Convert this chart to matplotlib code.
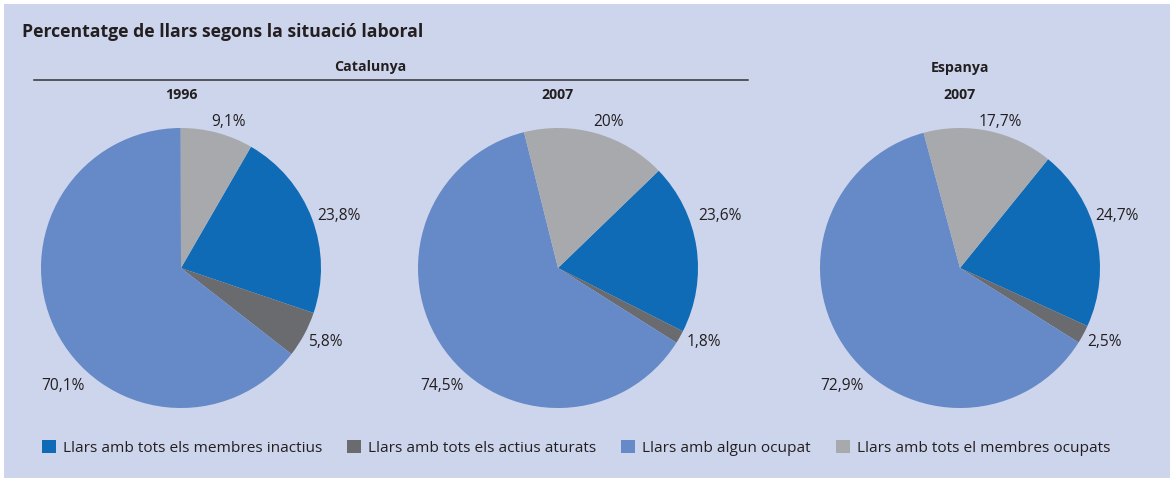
import matplotlib
matplotlib.use("Agg")
import matplotlib.pyplot as plt
from matplotlib.patches import Rectangle, Patch
from matplotlib.lines import Line2D

plt.rcParams['font.family'] = ['Open Sans', 'DejaVu Sans']

# Data
categories = [
    "Llars amb tots els membres inactius",
    "Llars amb tots els actius aturats",
    "Llars amb algun ocupat",
    "Llars amb tots el membres ocupats",
]
colors = ["#0f6bb6", "#6a6b6f", "#6689c7", "#a8a9ad"]

panels = ["1996", "2007", "2007"]
cat_1996 = [23.8, 5.8, 70.1, 9.1]
cat_2007 = [23.6, 1.8, 74.5, 20.0]
esp_2007 = [24.7, 2.5, 72.9, 17.7]
series = [cat_1996, cat_2007, esp_2007]

def fmt(v):
    s = f"{v:.1f}".rstrip("0").rstrip(".")
    return s.replace(".", ",") + "%"

W, H = 1170, 480
BG = "#cdd5ec"
TXT = "#231f20"

fig = plt.figure(figsize=(W / 100, H / 100), dpi=100)
fig.patch.set_facecolor("white")
fig.add_artist(Rectangle((4 / W, 2 / H), 1 - 4 / W, (H - 6) / H,
                         transform=fig.transFigure, facecolor=BG,
                         edgecolor="none", zorder=0))

def fx(px):
    return px / W

def fy(py):
    return 1 - py / H

fig.text(fx(22), fy(32), "Percentatge de llars segons la situació laboral",
         fontsize=12.7, fontweight="bold", color=TXT, va="center", ha="left")

# Group headers
fig.add_artist(Line2D([fx(34), fx(748)], [fy(80), fy(80)],
                      transform=fig.transFigure, color="#333333", lw=1.1))
fig.text(fx(370), fy(67), "Catalunya", fontsize=10.2, fontweight="bold",
         color=TXT, ha="center", va="center")
fig.text(fx(960), fy(68), "Espanya", fontsize=10.2, fontweight="bold",
         color=TXT, ha="center", va="center")

centers = [(181, 268), (558, 268), (960, 268)]
radius = 140
# start angle of the first wedge (degrees, counter-clockwise from +x)
start_angles = [60, 44, 51]
# label anchor positions in axes units (center at 0,0; radius 1)
label_pos = [
    [(1.125, 0.37), (1.03, -0.53), (-0.84, -0.84), (0.34, 1.04)],
    [(1.16, 0.37), (1.04, -0.53), (-0.83, -0.84), (0.36, 1.04)],
    [(1.12, 0.37), (1.03, -0.53), (-0.84, -0.84), (0.29, 1.04)],
]

for (cx, cy), vals, year, sa, lp in zip(centers, series, panels, start_angles, label_pos):
    ax = fig.add_axes([fx(cx - radius), fy(cy + radius), 2 * radius / W, 2 * radius / H])
    ax.pie(vals, colors=colors, startangle=sa, counterclock=False,
           wedgeprops=dict(linewidth=0))
    ax.set_xlim(-1, 1)
    ax.set_ylim(-1, 1)
    ax.set_aspect("equal")
    ax.axis("off")
    for v, (lx, ly) in zip(vals, lp):
        ax.text(lx, ly, fmt(v), fontsize=11.2, color=TXT, ha="center",
                va="center", clip_on=False)
    fig.text(fx(cx), fy(95), year, fontsize=10.2, fontweight="bold",
             color=TXT, ha="center", va="center")

handles = [Patch(facecolor=c, edgecolor="none") for c in colors]
fig.legend(handles, categories, loc="center left",
           bbox_to_anchor=(fx(42), fy(448)), ncol=4, frameon=False,
           fontsize=11.1, handlelength=0.92, handleheight=0.92,
           handletextpad=0.45, columnspacing=1.6, borderpad=0,
           borderaxespad=0, labelcolor=TXT)

fig.savefig("out.png", dpi=100, facecolor=fig.get_facecolor())
